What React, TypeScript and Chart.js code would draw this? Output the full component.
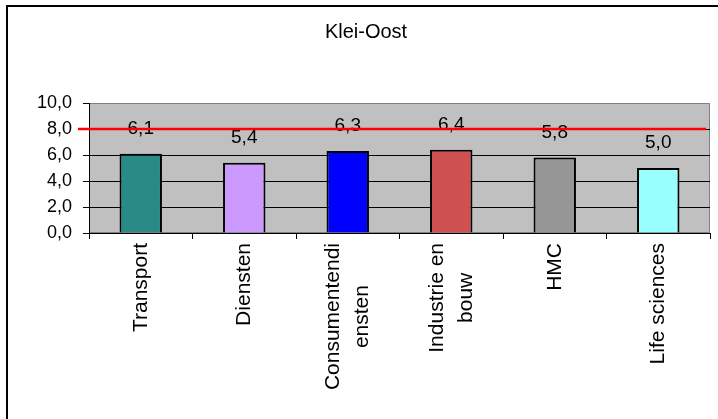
import React, { useEffect, useRef } from "react";
import { Chart, registerables } from "chart.js";

Chart.register(...registerables);

const title = "Klei-Oost";
const categories: string[][] = [
  ["Transport"],
  ["Diensten"],
  ["Consumentendi", "ensten"],
  ["Industrie en", "bouw"],
  ["HMC"],
  ["Life sciences"],
];
const values = [6.1, 5.4, 6.3, 6.4, 5.8, 5.0];
const barColors = ["#2A8A86", "#CC99FF", "#0000FF", "#CF5050", "#969696", "#99FFFF"];
const targetValue = 8;
const yTicks = { min: 0, max: 10, step: 2 };

const FONT = "Arial, 'Liberation Sans', sans-serif";
const fmt = (v: number) => v.toFixed(1).replace(".", ",");

const plotPlugin = {
  id: "plotDecor",
  beforeDraw(chart: any) {
    const { ctx, chartArea: a } = chart;
    ctx.save();
    ctx.fillStyle = "#C0C0C0";
    ctx.fillRect(a.left, a.top, a.right - a.left, a.bottom - a.top);
    ctx.strokeStyle = "#808080";
    ctx.lineWidth = 1;
    ctx.strokeRect(a.left + 0.5, a.top + 0.5, a.right - a.left - 1, a.bottom - a.top - 1);
    ctx.restore();
  },
  afterDraw(chart: any) {
    const { ctx, chartArea: a } = chart;
    const xs = chart.scales.x;
    const ys = chart.scales.y;
    const meta = chart.getDatasetMeta(0);
    ctx.save();
    // value labels
    ctx.fillStyle = "#000";
    ctx.font = `19px ${FONT}`;
    ctx.textAlign = "center";
    ctx.textBaseline = "alphabetic";
    meta.data.forEach((bar: any, i: number) => {
      ctx.fillText(fmt(values[i]), bar.x, bar.y - 20);
    });
    // category labels (rotated, lines centred on each other)
    ctx.font = `21px ${FONT}`;
    const lh = 29;
    categories.forEach((lines, i) => {
      const cx = xs.getPixelForValue(i);
      const w = Math.max(...lines.map((l) => ctx.measureText(l).width));
      ctx.save();
      ctx.translate(cx, a.bottom + 10);
      ctx.rotate(-Math.PI / 2);
      ctx.textAlign = "center";
      ctx.textBaseline = "middle";
      lines.forEach((l, j) => {
        ctx.fillText(l, -w / 2, (j - (lines.length - 1) / 2) * lh);
      });
      ctx.restore();
    });
    // target line
    const y = ys.getPixelForValue(targetValue);
    ctx.strokeStyle = "#FF0000";
    ctx.lineWidth = 2.5;
    ctx.beginPath();
    ctx.moveTo(a.left - 11, y);
    ctx.lineTo(a.right - 4, y);
    ctx.stroke();
    ctx.restore();
  },
};

export default function App() {
  const ref = useRef<HTMLCanvasElement | null>(null);
  useEffect(() => {
    if (!ref.current) return;
    const chart = new Chart(ref.current, {
      type: "bar",
      data: {
        labels: categories.map((c) => c.join(" ")),
        datasets: [
          {
            data: values,
            backgroundColor: barColors,
            borderColor: "#000",
            borderWidth: 2,
            barPercentage: 0.41,
            categoryPercentage: 1,
          },
        ],
      },
      options: {
        responsive: false,
        animation: false,
        layout: { padding: { left: 22, right: 8, top: 0, bottom: 0 } },
        plugins: {
          legend: { display: false },
          tooltip: { enabled: false },
          title: {
            display: true,
            text: title,
            color: "#000",
            font: { family: FONT, size: 20, weight: "normal" },
            padding: { top: 20, bottom: 59 },
          },
        },
        scales: {
          x: {
            afterFit: (s: any) => {
              s.height = 186;
            },
            ticks: { display: false },
            grid: {
              offset: true,
              drawOnChartArea: false,
              drawTicks: true,
              tickLength: 6,
              tickColor: "#000",
              color: "#000",
            },
            border: { display: true, color: "#000", width: 1 },
          },
          y: {
            min: yTicks.min,
            max: yTicks.max,
            afterFit: (s: any) => {
              s.width = 67;
            },
            ticks: {
              stepSize: yTicks.step,
              color: "#000",
              padding: 11,
              font: { family: FONT, size: 18 },
              callback: (v: any) => fmt(Number(v)),
            },
            grid: {
              color: (c: any) =>
                c.tick && c.tick.value === yTicks.max
                  ? "#808080"
                  : c.tick && c.tick.value === yTicks.min
                  ? "rgba(0,0,0,0)"
                  : "#000",
              tickColor: "#000",
              tickLength: 6,
              lineWidth: 1,
            },
            border: { display: true, color: "#000", width: 1 },
          },
        },
      },
      plugins: [plotPlugin],
    });
    return () => chart.destroy();
  }, []);

  return (
    <div
      style={{
        position: "fixed",
        left: 0,
        top: 0,
        width: 718,
        height: 419,
        overflow: "hidden",
        background: "#fff",
      }}
    >
      <div
        style={{
          position: "absolute",
          left: 6,
          top: 5,
          width: 760,
          height: 460,
          border: "2px solid #000",
          boxSizing: "border-box",
        }}
      />
      <canvas
        ref={ref}
        width={718}
        height={419}
        style={{ position: "absolute", left: 0, top: 0 }}
      />
    </div>
  );
}
